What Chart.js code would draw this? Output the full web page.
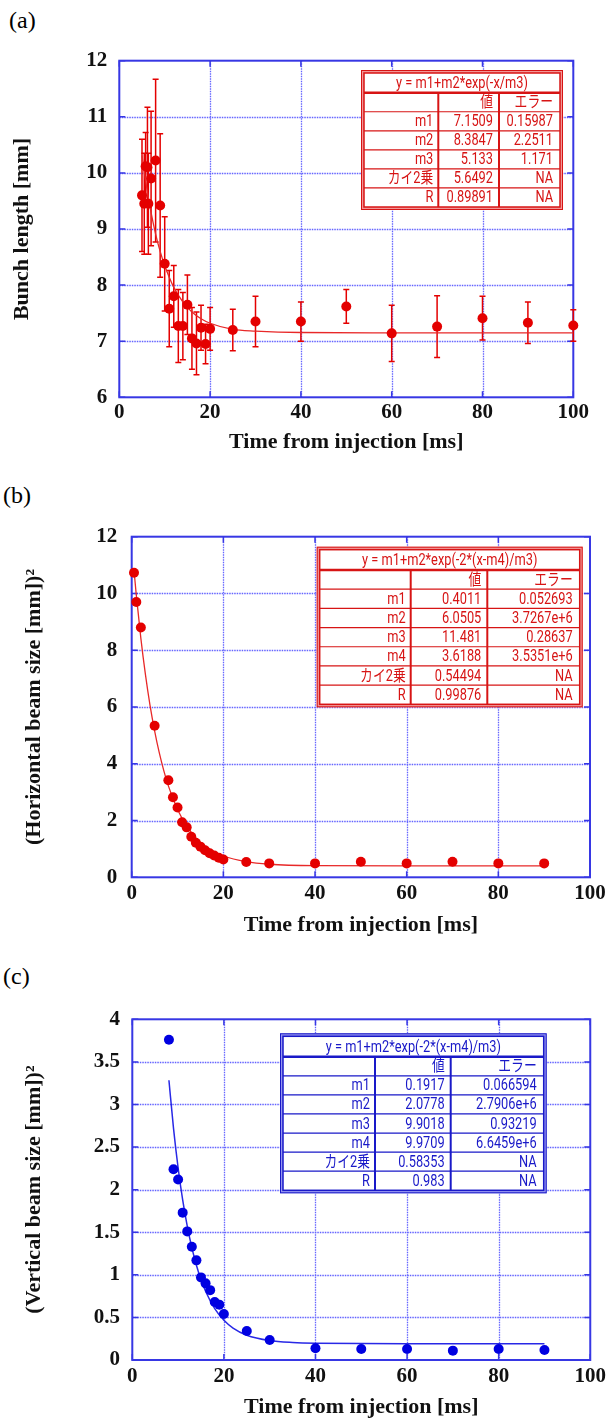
<!DOCTYPE html>
<html>
<head>
<meta charset="utf-8">
<script src="https://cdn.jsdelivr.net/npm/chart.js@4.4.1/dist/chart.umd.min.js"></script>
<style>
  body { margin: 0; background: #fff; width: 610px; height: 1421px; position: relative; overflow: hidden; }
  canvas { position: absolute; left: 0; }
  .panel-label { position: absolute; font: 24px 'Liberation Serif', 'Times New Roman', serif; color: #000; line-height: 28px; }
</style>
</head>
<body>
<div class="panel-label" style="left:9px;top:6px">(a)</div>
<div class="panel-label" style="left:3px;top:481px">(b)</div>
<div class="panel-label" style="left:3px;top:962px">(c)</div>
<canvas id="chartA" width="610" height="470" style="top:0px"></canvas>
<canvas id="chartB" width="610" height="480" style="top:470px"></canvas>
<canvas id="chartC" width="610" height="471" style="top:950px"></canvas>

<script>
// ---- axes ----
const xTicks = [0, 20, 40, 60, 80, 100];
const aYTicks = [6, 7, 8, 9, 10, 11, 12];
const bYTicks = [0, 2, 4, 6, 8, 10, 12];
const cYTicks = [0, 0.5, 1, 1.5, 2, 2.5, 3, 3.5, 4];

// ---- (a) bunch length ----
const aTime   = [5, 5.5, 5.8, 6.2, 6.4, 7, 8, 9, 10, 11, 12, 13, 14, 15, 16, 17, 18, 19, 20, 25, 30, 40, 50, 60, 70, 80, 90, 100];
const aLength = [9.6, 9.45, 10.12, 10.1, 9.45, 9.9, 10.22, 9.42, 8.38, 7.58, 7.8, 7.27, 7.27, 7.65, 7.05, 6.96, 7.24, 6.95, 7.22, 7.2, 7.35, 7.35, 7.62, 7.14, 7.26, 7.41, 7.33, 7.28];
const aError  = [1.0, 0.9, 0.6, 1.07, 0.9, 1.2, 1.45, 1.28, 0.84, 0.68, 0.55, 0.65, 0.6, 0.53, 0.55, 0.56, 0.4, 0.35, 0.38, 0.37, 0.45, 0.35, 0.3, 0.5, 0.55, 0.39, 0.37, 0.28];
const aFitTime   = [5, 6, 7, 8, 9, 10, 12, 14, 16, 18, 20, 25, 30, 40, 60, 80, 100];
const aFitLength = [10.31, 9.76, 9.29, 8.91, 8.6, 8.35, 7.96, 7.7, 7.52, 7.4, 7.32, 7.21, 7.18, 7.155, 7.15, 7.15, 7.15];
const aTableTitle = 'y = m1+m2*exp(-x/m3)';
const aTableRows = [
  ['m1', '7.1509', '0.15987'],
  ['m2', '8.3847', '2.2511'],
  ['m3', '5.133', '1.171'],
  ['カイ2乗', '5.6492', 'NA'],
  ['R', '0.89891', 'NA']
];

// ---- (b) horizontal beam size ----
const bTime = [0.5, 1, 2, 5, 8, 9, 10, 11, 12, 13, 14, 15, 16, 17, 18, 19, 20, 25, 30, 40, 50, 60, 70, 80, 90];
const bSize = [10.73, 9.7, 8.8, 5.34, 3.42, 2.82, 2.46, 1.94, 1.76, 1.43, 1.22, 1.08, 0.95, 0.85, 0.77, 0.69, 0.63, 0.54, 0.49, 0.49, 0.55, 0.49, 0.55, 0.49, 0.49];
const bFitTime = [0.5, 1, 2, 3, 4, 5, 6, 7, 8, 10, 12, 14, 16, 18, 20, 25, 30, 40, 60, 90];
const bFitSize = [10.82, 9.95, 8.42, 7.14, 6.06, 5.16, 4.4, 3.76, 3.22, 2.39, 1.81, 1.39, 1.1, 0.9, 0.75, 0.55, 0.46, 0.41, 0.4, 0.4];
const bTableTitle = 'y = m1+m2*exp(-2*(x-m4)/m3)';
const bTableRows = [
  ['m1', '0.4011', '0.052693'],
  ['m2', '6.0505', '3.7267e+6'],
  ['m3', '11.481', '0.28637'],
  ['m4', '3.6188', '3.5351e+6'],
  ['カイ2乗', '0.54494', 'NA'],
  ['R', '0.99876', 'NA']
];

// ---- (c) vertical beam size ----
const cTime = [8, 9, 10, 11, 12, 13, 14, 15, 16, 17, 18, 19, 20, 25, 30, 40, 50, 60, 70, 80, 90];
const cSize = [3.76, 2.24, 2.12, 1.73, 1.51, 1.33, 1.17, 0.97, 0.9, 0.82, 0.68, 0.65, 0.54, 0.34, 0.235, 0.137, 0.13, 0.13, 0.11, 0.13, 0.117];
const cFitTime = [8, 9, 10, 11, 12, 13, 14, 15, 16, 18, 20, 22, 25, 30, 35, 40, 60, 90];
const cFitSize = [3.285, 2.72, 2.257, 1.879, 1.571, 1.319, 1.113, 0.944, 0.807, 0.602, 0.466, 0.375, 0.291, 0.228, 0.205, 0.197, 0.192, 0.192];
const cTableTitle = 'y = m1+m2*exp(-2*(x-m4)/m3)';
const cTableRows = [
  ['m1', '0.1917', '0.066594'],
  ['m2', '2.0778', '2.7906e+6'],
  ['m3', '9.9018', '0.93219'],
  ['m4', '9.9709', '6.6459e+6'],
  ['カイ2乗', '0.58353', 'NA'],
  ['R', '0.983', 'NA']
];
const tableHeader = ['', '値', 'エラー'];

const SERIF = "'Liberation Serif', 'Times New Roman', serif";
const GRID_COLOR = 'rgb(100,100,255)';
const FRAME_COLOR = 'rgb(55,55,228)';

Chart.defaults.font.family = SERIF;
Chart.defaults.color = '#000';

function toPoints(xs, ys) {
  return xs.map((x, i) => ({ x: x, y: ys[i] }));
}

/**
 * Grille pointillée, cadre et graduations intérieures
 */
const frameGrid = {
  id: 'frameGrid',
  beforeDatasetsDraw(chart) {
    const { ctx, chartArea: a, scales: { x, y } } = chart;
    ctx.save();
    ctx.strokeStyle = GRID_COLOR;
    ctx.lineWidth = 1.3;
    ctx.setLineDash([1.5, 1]);
    x.ticks.forEach(t => {
      const px = Math.round(x.getPixelForValue(t.value)) + 0.5;
      if (px < a.left + 2 || px > a.right - 2) return;
      ctx.beginPath(); ctx.moveTo(px, a.top); ctx.lineTo(px, a.bottom); ctx.stroke();
    });
    y.ticks.forEach(t => {
      const py = Math.round(y.getPixelForValue(t.value)) + 0.5;
      if (py < a.top + 2 || py > a.bottom - 2) return;
      ctx.beginPath(); ctx.moveTo(a.left, py); ctx.lineTo(a.right, py); ctx.stroke();
    });
    ctx.setLineDash([]);

    // graduations vers l'intérieur sur les 4 côtés
    const len = 6;
    ctx.strokeStyle = FRAME_COLOR;
    ctx.lineWidth = 1.5;
    x.ticks.forEach(t => {
      const px = x.getPixelForValue(t.value);
      ctx.beginPath();
      ctx.moveTo(px, a.bottom); ctx.lineTo(px, a.bottom - len);
      ctx.moveTo(px, a.top); ctx.lineTo(px, a.top + len);
      ctx.stroke();
    });
    y.ticks.forEach(t => {
      const py = y.getPixelForValue(t.value);
      ctx.beginPath();
      ctx.moveTo(a.left, py); ctx.lineTo(a.left + len, py);
      ctx.moveTo(a.right, py); ctx.lineTo(a.right - len, py);
      ctx.stroke();
    });

    ctx.lineWidth = 2;
    ctx.strokeRect(a.left, a.top, a.right - a.left, a.bottom - a.top);
    ctx.restore();
  }
};

/**
 * Barres d'erreur verticales (dataset 0, propriété errors)
 */
const errorBars = {
  id: 'errorBars',
  beforeDatasetsDraw(chart) {
    const ds = chart.data.datasets[0];
    if (!ds.errors) return;
    const { ctx, scales: { x, y } } = chart;
    ctx.save();
    ctx.strokeStyle = ds.backgroundColor;
    ctx.lineWidth = 1.5;
    ds.data.forEach((p, i) => {
      const e = ds.errors[i];
      const px = x.getPixelForValue(p.x);
      const top = y.getPixelForValue(p.y + e);
      const bot = y.getPixelForValue(p.y - e);
      ctx.beginPath();
      ctx.moveTo(px, top); ctx.lineTo(px, bot);
      ctx.moveTo(px - 3, top); ctx.lineTo(px + 3, top);
      ctx.moveTo(px - 3, bot); ctx.lineTo(px + 3, bot);
      ctx.stroke();
    });
    ctx.restore();
  }
};

function condensedText(ctx, text, x, y, align) {
  ctx.save();
  ctx.translate(x, y);
  ctx.scale(0.8, 1);
  ctx.textAlign = align;
  ctx.fillText(text, 0, 0);
  ctx.restore();
}

/**
 * Tableau des paramètres du fit
 */
const fitTable = {
  id: 'fitTable',
  afterDatasetsDraw(chart, args, t) {
    if (!t || !t.rows) return;
    const ctx = chart.ctx;
    const inset = 3;
    const ix0 = t.x + inset, ix1 = t.x + t.w - inset;
    const iy0 = t.y + inset, iy1 = t.y + t.h - inset;
    const lines = [tableHeader].concat(t.rows);
    const rowH = (iy1 - iy0 - t.titleH) / lines.length;

    ctx.save();
    ctx.fillStyle = t.light;
    ctx.fillRect(t.x, t.y, t.w, t.h);
    ctx.fillStyle = '#fff';
    ctx.fillRect(ix0, iy0, ix1 - ix0, iy1 - iy0);
    ctx.strokeStyle = t.color;
    ctx.lineWidth = 1;
    ctx.strokeRect(t.x + 0.5, t.y + 0.5, t.w - 1, t.h - 1);
    ctx.lineWidth = 1.5;
    ctx.strokeRect(ix0, iy0, ix1 - ix0, iy1 - iy0);

    // lignes
    ctx.lineWidth = 2.5;
    ctx.beginPath(); ctx.moveTo(ix0, iy0 + t.titleH); ctx.lineTo(ix1, iy0 + t.titleH); ctx.stroke();
    ctx.lineWidth = 1.2;
    for (let i = 1; i < lines.length; i++) {
      const yy = iy0 + t.titleH + i * rowH;
      ctx.beginPath(); ctx.moveTo(ix0, yy); ctx.lineTo(ix1, yy); ctx.stroke();
    }
    ctx.lineWidth = 2;
    [t.col1, t.col2].forEach(cx => {
      ctx.beginPath(); ctx.moveTo(cx, iy0 + t.titleH); ctx.lineTo(cx, iy1); ctx.stroke();
    });

    // textes
    ctx.fillStyle = t.color;
    ctx.font = "16px Roboto, 'Noto Sans CJK JP', sans-serif";
    ctx.textBaseline = 'middle';
    condensedText(ctx, t.title, (ix0 + ix1) / 2, iy0 + t.titleH / 2 + 1, 'center');
    lines.forEach((row, i) => {
      const yy = iy0 + t.titleH + (i + 0.5) * rowH + 1;
      condensedText(ctx, row[0], t.col1 - 5, yy, 'right');
      condensedText(ctx, row[1], t.col2 - 6, yy, 'right');
      condensedText(ctx, row[2], ix1 - 7, yy, 'right');
    });
    ctx.restore();
  }
};

/**
 * Créer un graphique (un panneau)
 */
function makePanel(p) {
  const canvas = document.getElementById(p.id);
  const W = canvas.width, H = canvas.height;

  const pointSet = {
    data: toPoints(p.xs, p.ys),
    showLine: false,
    pointRadius: 5,
    pointHoverRadius: 5,
    pointBorderWidth: 0,
    backgroundColor: p.pointColor,
    pointBackgroundColor: p.pointColor,
    clip: false,
    order: 0
  };
  if (p.errors) pointSet.errors = p.errors;

  return new Chart(canvas.getContext('2d'), {
    type: 'scatter',
    data: {
      datasets: [
        pointSet,
        {
          data: toPoints(p.fitXs, p.fitYs),
          showLine: true,
          pointRadius: 0,
          borderColor: p.lineColor,
          borderWidth: p.lineWidth,
          cubicInterpolationMode: 'monotone',
          order: 1
        }
      ]
    },
    options: {
      responsive: false,
      animation: false,
      events: [],
      devicePixelRatio: 1,
      layout: {
        padding: { left: 0, top: p.area.top, right: W - p.area.right, bottom: 0 }
      },
      scales: {
        x: {
          type: 'linear',
          min: 0, max: 100,
          afterBuildTicks: s => { s.ticks = xTicks.map(v => ({ value: v })); },
          afterFit: s => { s.height = H - p.area.bottom; },
          grid: { display: false, drawTicks: false },
          border: { display: false },
          ticks: { padding: p.xTickPad, maxRotation: 0, font: { size: 21, weight: 'bold' }, color: '#111',
                   callback: v => String(v) },
          title: {
            display: true,
            text: 'Time from injection [ms]',
            font: { size: 22, weight: 'bold' },
            color: '#111',
            padding: { top: 0, bottom: p.xTitlePad }
          }
        },
        y: {
          type: 'linear',
          min: p.yTicks[0], max: p.yTicks[p.yTicks.length - 1],
          afterBuildTicks: s => { s.ticks = p.yTicks.map(v => ({ value: v })); },
          afterFit: s => { s.width = p.area.left; },
          grid: { display: false, drawTicks: false },
          border: { display: false },
          ticks: { padding: p.yTickPad, font: { size: 21, weight: 'bold' }, color: '#111',
                   callback: v => String(v) },
          title: {
            display: true,
            text: p.yTitle,
            font: { size: 22, weight: 'bold' },
            color: '#111',
            padding: { top: p.yTitlePad, bottom: 0 }
          }
        }
      },
      plugins: {
        legend: { display: false },
        tooltip: { enabled: false },
        fitTable: p.table
      }
    },
    plugins: [frameGrid, errorBars, fitTable]
  });
}

const RED = 'rgb(228,0,0)';
const BLUE = 'rgb(0,0,225)';

makePanel({
  id: 'chartA',
  area: { left: 119.3, top: 60.7, right: 573.3, bottom: 397.3 },
  xs: aTime, ys: aLength, errors: aError,
  fitXs: aFitTime, fitYs: aFitLength,
  yTicks: aYTicks,
  yTitle: 'Bunch length [mm]',
  pointColor: RED, lineColor: 'rgb(232,40,40)', lineWidth: 1.3,
  xTickPad: 3, yTickPad: 12, xTitlePad: 14.8, yTitlePad: 8.8,
  table: {
    x: 361, y: 70, w: 202, h: 140, titleH: 19.7, col1: 438.3, col2: 499,
    title: aTableTitle, rows: aTableRows,
    color: 'rgb(215,20,20)', light: 'rgb(242,150,150)'
  }
});

makePanel({
  id: 'chartB',
  area: { left: 131.7, top: 66.7, right: 590, bottom: 407.3 },
  xs: bTime, ys: bSize,
  fitXs: bFitTime, fitYs: bFitSize,
  yTicks: bYTicks,
  yTitle: '(Horizontal beam size [mm])²',
  pointColor: RED, lineColor: 'rgb(232,40,40)', lineWidth: 1.3,
  xTickPad: 4, yTickPad: 14.4, xTitlePad: 11.8, yTitlePad: 20.8,
  table: {
    x: 316.7, y: 76.7, w: 266, h: 160.6, titleH: 20.3, col1: 410.7, col2: 487.3,
    title: bTableTitle, rows: bTableRows,
    color: 'rgb(215,20,20)', light: 'rgb(242,150,150)'
  }
});

makePanel({
  id: 'chartC',
  area: { left: 132.3, top: 69.3, right: 592.3, bottom: 410 },
  xs: cTime, ys: cSize,
  fitXs: cFitTime, fitYs: cFitSize,
  yTicks: cYTicks,
  yTitle: '(Vertical beam size [mm])²',
  pointColor: BLUE, lineColor: 'rgb(40,40,230)', lineWidth: 1.5,
  xTickPad: 4, yTickPad: 12.3, xTitlePad: 0.5, yTitlePad: 20.8,
  table: {
    x: 280, y: 83.3, w: 266.7, h: 160, titleH: 20.4, col1: 375, col2: 450.7,
    title: cTableTitle, rows: cTableRows,
    color: 'rgb(25,25,200)', light: 'rgb(150,150,240)'
  }
});
</script>
</body>
</html>
